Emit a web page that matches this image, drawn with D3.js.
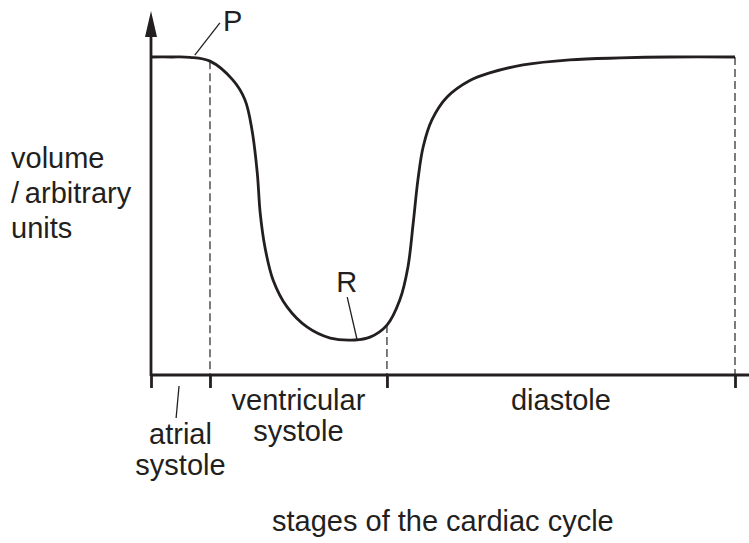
<!DOCTYPE html>
<html>
<head>
<meta charset="utf-8">
<script src="https://cdn.jsdelivr.net/npm/d3@7"></script>
<style>
  body { margin: 0; background: #fff; }
  text { font-family: "Liberation Sans", Arial, Helvetica, sans-serif; fill: #231f20; }
</style>
</head>
<body>
<svg id="chart"></svg>
<script>
// time through the cycle (0-100) and ventricular volume (arbitrary units, 0-100)
const cycleTime = [0, 3.5, 6.7, 10.1, 14.0, 16.1, 17.3, 18.2, 18.7, 19.5, 20.9, 23.3, 26.7, 30.7, 34.9, 37.5, 40.4, 42.6, 44.0, 44.9, 45.7, 46.6, 48.1, 50.7, 54.6, 58.0, 63.7, 71.7, 80.3, 88.9, 100];
const volume    = [100, 100, 99.9, 98.7, 92.8, 86.5, 77.0, 63.5, 50.9, 40.3, 29.9, 21.4, 15.1, 11.6, 11.0, 11.9, 15.7, 23.6, 34.0, 47.8, 61.3, 71.7, 80.2, 87.4, 92.6, 95.0, 97.5, 99.1, 99.7, 100, 100];

// stage boundaries on the time axis
const stageBounds = [0, 10.1, 40.4, 100];
const stageLabels = [["atrial", "systole"], ["ventricular", "systole"], ["diastole"]];

const yLabel = ["volume", "/\u2009arbitrary", "units"];
const xLabel = "stages of the cardiac cycle";

// annotated points: where the leader touches the curve, and where the label sits
const marks = [
  { name: "P", t: 7.5, v: 100.6, lt: 11.8, lv: 110.7, tx: 14.0, tv: 108.2 },
  { name: "R", t: 35.3, v: 11.0, lt: 33.6, lv: 24.5, tx: 33.5, tv: 26.1 }
];

const W = 749, H = 543;
const svg = d3.select("#chart").attr("width", W).attr("height", H);

const x = d3.scaleLinear().domain([0, 100]).range([151, 735]);
const y = d3.scaleLinear().domain([0, 100]).range([375, 57]);

const ink = "#231f20";
const fs = 29;

// dashed drop lines at the stage boundaries
const points = cycleTime.map((t, i) => ({ t: t, v: volume[i] }));
const volAt = t => {
  const i = d3.bisector(d => d.t).left(points, t);
  return points[Math.min(i, points.length - 1)].v;
};
svg.append("g").selectAll("line")
  .data(stageBounds.slice(1))
  .enter().append("line")
  .attr("x1", d => x(d)).attr("x2", d => x(d))
  .attr("y1", d => y(volAt(d))).attr("y2", y(0))
  .attr("stroke", "#444").attr("stroke-width", 1.4)
  .attr("stroke-dasharray", "8,4");

// x axis with ticks at the stage boundaries
const xAxis = d3.axisBottom(x)
  .tickValues(stageBounds)
  .tickSizeInner(13).tickSizeOuter(0)
  .tickFormat("");
const gx = svg.append("g").attr("transform", `translate(0,${y(0)})`).call(xAxis);
gx.select(".domain").attr("d", `M${x(0)},0H${W}`).attr("stroke", ink).attr("stroke-width", 2.8);
gx.selectAll(".tick line").attr("stroke", ink).attr("stroke-width", 2.8);

// y axis with arrow head
const yTop = y(114.5);
svg.append("line")
  .attr("x1", x(0)).attr("x2", x(0))
  .attr("y1", y(0) + 1).attr("y2", yTop + 20)
  .attr("stroke", ink).attr("stroke-width", 2.8);
svg.append("path")
  .attr("d", `M${x(0)},${yTop} L${x(0) - 6},${yTop + 26} L${x(0) + 6},${yTop + 26} Z`)
  .attr("fill", ink);

// volume curve
const line = d3.line()
  .x(d => x(d.t))
  .y(d => y(d.v))
  .curve(d3.curveCatmullRom.alpha(0.5));
svg.append("path")
  .datum(points)
  .attr("d", line)
  .attr("fill", "none")
  .attr("stroke", ink)
  .attr("stroke-width", 2.8);

// P and R labels with leaders
marks.forEach(m => {
  svg.append("line")
    .attr("x1", x(m.t)).attr("y1", y(m.v))
    .attr("x2", x(m.lt)).attr("y2", y(m.lv))
    .attr("stroke", ink).attr("stroke-width", 1.3);
  svg.append("text")
    .attr("x", x(m.tx)).attr("y", y(m.tv))
    .attr("text-anchor", "middle")
    .attr("font-size", fs)
    .text(m.name);
});

// stage labels
const lab = svg.append("g").attr("font-size", fs).attr("text-anchor", "middle");
stageLabels.forEach((lines, i) => {
  const cx = x((stageBounds[i] + stageBounds[i + 1]) / 2);
  const base = i === 0 ? 444 : 410;
  lines.forEach((s, j) => {
    lab.append("text").attr("x", cx).attr("y", base + j * 31).text(s);
  });
});
// leader from atrial systole label up to its stage
svg.append("line")
  .attr("x1", x(4.8)).attr("y1", y(0) + 11)
  .attr("x2", x(4.3)).attr("y2", y(0) + 43)
  .attr("stroke", ink).attr("stroke-width", 1.3);

// axis titles
const yl = svg.append("g").attr("font-size", fs);
yLabel.forEach((s, i) => {
  yl.append("text").attr("x", 11).attr("y", 168 + i * 35).text(s);
});
svg.append("text")
  .attr("x", 272).attr("y", 531)
  .attr("font-size", fs)
  .text(xLabel);
</script>
</body>
</html>
